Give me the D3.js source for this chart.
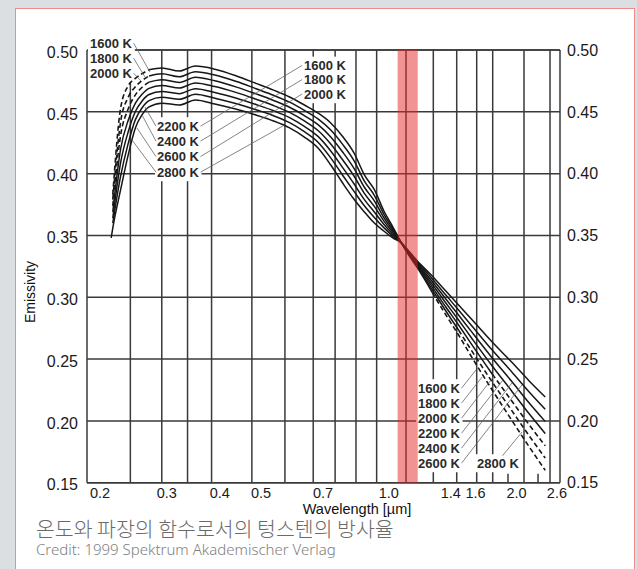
<!DOCTYPE html>
<html><head><meta charset="utf-8">
<script src="https://cdn.jsdelivr.net/npm/d3@7"></script>
<style>body{margin:0;background:#dcdfe2;overflow:hidden} svg{display:block}</style>
</head><body><svg id="c" width="637" height="569"></svg>
<script>
// ---------------- data ----------------
const wavelengths = [0.228,0.23,0.24,0.25,0.26,0.27,0.28,0.30,0.33,0.36,0.40,0.45,0.50,0.55,0.60,0.65,0.70,0.75,0.80,0.85,0.90,0.95,1.0,1.05,1.1,1.15,1.2,1.3,1.4,1.5,1.6,1.8,2.0,2.2,2.4];
const temperatures = ["1600 K","1800 K","2000 K","2200 K","2400 K","2600 K","2800 K"];
const emis1600 = [null,.383,.453,.471,.477,.481,.484,.4855,.483,.487,.4845,.479,.473,.4675,.462,.4555,.449,.441,.430,.417,.399,.387,.370,.357,.344,.333,.3237,.304,.2857,.2695,.2533,.225,.2007,.179,.160];
const emis1800 = [null,.379,.442,.4617,.4703,.4755,.479,.4808,.4784,.4824,.4798,.4745,.4687,.4634,.4578,.4512,.4443,.4353,.4237,.4108,.394,.3825,.3673,.3555,.344,.3336,.3246,.3062,.2889,.2735,.2583,.2315,.2085,.1879,.1699];
const emis2000 = [null,.374,.431,.4523,.4637,.470,.474,.476,.4738,.4779,.4751,.470,.4645,.4592,.4537,.4469,.4396,.4297,.4175,.4045,.389,.378,.3645,.354,.344,.3342,.3256,.3084,.2921,.2776,.2633,.2379,.2163,.1968,.1798];
const emis2200 = [null,.369,.420,.443,.457,.4645,.469,.4713,.4693,.4733,.4704,.4655,.4602,.4551,.4495,.4426,.4349,.424,.4112,.3983,.384,.3735,.3618,.3525,.344,.3348,.3265,.3106,.2954,.2816,.2683,.2444,.2242,.2057,.1897];
const emis2400 = [null,.364,.409,.4337,.4503,.459,.464,.4665,.4647,.4687,.4657,.461,.4559,.4509,.4453,.4382,.4301,.4183,.4049,.392,.379,.369,.3591,.351,.344,.3354,.3274,.3128,.2986,.2856,.2732,.2509,.232,.2145,.1995];
const emis2600 = [null,.360,.398,.4243,.4437,.4535,.459,.4618,.4601,.4642,.461,.4565,.4517,.4468,.4412,.4339,.4254,.4127,.3987,.3858,.374,.3645,.3563,.3495,.344,.336,.3284,.315,.3018,.2897,.2782,.2573,.2398,.2234,.2094];
const emis2800 = [.348,.356,.387,.415,.437,.448,.454,.457,.4555,.4596,.4563,.452,.4474,.4426,.437,.4296,.4207,.407,.3924,.3795,.369,.360,.3536,.348,.344,.3366,.3293,.3172,.305,.2937,.2832,.2638,.2476,.2323,.2193];
const seriesValues = [emis1600,emis1800,emis2000,emis2200,emis2400,emis2600,emis2800];
// extrapolated (dashed) ranges per series: dashed up to / from these wavelengths
const dashedBelow = [0.28,0.28,0.28,null,null,null,null];
const dashedAbove = [1.3,1.5,1.8,null,null,null,null];

const yTicks = [0.15,0.20,0.25,0.30,0.35,0.40,0.45,0.50];
const yTickLabels = ["0.15","0.20","0.25","0.30","0.35","0.40","0.45","0.50"];
const xTicks = [0.2,0.3,0.4,0.5,0.7,1.0,1.4,1.6,2.0,2.6];
const xTickLabels = ["0.2","0.3","0.4","0.5","0.7","1.0","1.4","1.6","2.0","2.6"];
const gridWavelengths = [0.253,0.30,0.345,0.393,0.489,0.585,0.682,0.768,0.86,0.962,1.128,1.308,1.485,1.655,1.805,2.139,2.463];
const minorTickWavelengths = [1.961,2.308];
const bandRange = [1.078,1.202];

// annotation labels: text, anchor (wavelength, emissivity)
const labelText = ["1600 K","1800 K","2000 K","1600 K","1800 K","2000 K","2200 K","2400 K","2600 K","2800 K","1600 K","1800 K","2000 K","2200 K","2400 K","2600 K","2800 K"];
const labelLam  = [0.2033,0.2033,0.2033,0.6488,0.6488,0.6488,0.2923,0.2923,0.2923,0.2923,1.204,1.204,1.204,1.204,1.204,1.204,1.658];
const labelEmis = [0.5057,0.4935,0.4814,0.4875,0.4761,0.4644,0.4385,0.4264,0.4139,0.4013,0.2266,0.2145,0.2023,0.1902,0.1781,0.1659,0.1659];
// leader lines: label index, side of label, target point (wavelength, emissivity)
const leaderLabel = [0,1,2,6,7,8,9,6,7,8,9,10,11,12,13,14,15,16];
const leaderSide  = ["right","right","right","left","left","left","left","right","right","right","right","right","right","right","right","right","right","top"];
const leaderLam   = [0.2814,0.2739,0.2695,0.2739,0.2695,0.2623,0.2553,0.642,0.642,0.642,0.5808,1.649,1.704,1.818,1.909,2.004,2.116,2.116];
const leaderEmis  = [0.4822,0.4782,0.4741,0.4539,0.4474,0.4369,0.4272,0.4875,0.4761,0.4644,0.4389,0.2412,0.2355,0.2363,0.2331,0.2307,0.2291,0.191];

// ---------------- layout ----------------
const svg = d3.select("#c");
const L = 87, R = 560, T = 50, B = 482.7;
const x = d3.scaleLog().domain([0.2, 2.6]).range([L, R]);
const y = d3.scaleLinear().domain([0.15, 0.50]).range([B, T]);
const axisFont = "'Liberation Sans', Arial, Helvetica, sans-serif";
const gridColor = "#3a3a3a";

svg.append("rect").attr("x",0).attr("y",0).attr("width",637).attr("height",569).attr("fill","#dcdfe2");
svg.append("rect").attr("x",15.5).attr("y",8.5).attr("width",619).attr("height",620)
  .attr("fill","#ffffff").attr("stroke","#f08a8a").attr("stroke-width",1);

const plot = svg.append("g");

// grid
const grid = plot.append("g").attr("stroke", gridColor).attr("stroke-width", 1.5);
grid.selectAll("line.h").data(yTicks).join("line")
  .attr("x1", L).attr("x2", R).attr("y1", d => y(d)).attr("y2", d => y(d));
grid.selectAll("line.v").data(gridWavelengths).join("line")
  .attr("x1", d => x(d)).attr("x2", d => x(d)).attr("y1", T).attr("y2", B);
grid.selectAll("line.m").data(minorTickWavelengths).join("line")
  .attr("x1", d => x(d)).attr("x2", d => x(d)).attr("y1", B - 9).attr("y2", B);

// labels (white boxes hide grid)
const labFont = 13;
const labG = plot.append("g");
const labels = labelText.map((t, i) => {
  const g = labG.append("g");
  const txt = g.append("text").attr("x", x(labelLam[i])).attr("y", y(labelEmis[i])).attr("dy", "0.36em")
    .attr("font-family", axisFont).attr("font-weight", "bold").attr("font-size", labFont)
    .attr("fill", "#2a2a2a").text(t);
  const bb = txt.node().getBBox();
  g.insert("rect", "text").attr("x", bb.x - 2).attr("y", bb.y - 1.5)
    .attr("width", bb.width + 4).attr("height", bb.height + 3).attr("fill", "#fff");
  return bb;
});
// border on top of boxes except where hidden by the top-left labels
const border = plot.append("g").attr("stroke", gridColor).attr("stroke-width", 1.5);
border.append("line").attr("x1", L).attr("x2", L).attr("y1", T).attr("y2", B);
border.append("line").attr("x1", R).attr("x2", R).attr("y1", T).attr("y2", B);
border.append("line").attr("x1", L).attr("x2", R).attr("y1", B).attr("y2", B);
border.append("line").attr("x1", labels[0].x + labels[0].width + 3).attr("x2", R).attr("y1", T).attr("y2", T);

// curves
const line = d3.line().defined(d => d[1] != null).x(d => x(d[0])).y(d => y(d[1])).curve(d3.curveMonotoneX);
const curves = plot.append("g").attr("fill", "none").attr("stroke", "#161616").attr("stroke-width", 1.5);
seriesValues.forEach((vals, k) => {
  const pts = wavelengths.map((w, i) => [w, vals[i]]).filter(p => p[1] != null);
  const lo = dashedBelow[k], hi = dashedAbove[k];
  const solid = pts.filter(p => (lo == null || p[0] >= lo) && (hi == null || p[0] <= hi));
  curves.append("path").attr("d", line(solid));
  if (lo != null) curves.append("path").attr("d", line(pts.filter(p => p[0] <= lo)))
    .attr("stroke-dasharray", "5,3").attr("stroke-width", 1.6);
  if (hi != null) curves.append("path").attr("d", line(pts.filter(p => p[0] >= hi)))
    .attr("stroke-dasharray", "5,3").attr("stroke-width", 1.6);
});

// leaders
const leaders = plot.append("g").attr("stroke", "#666").attr("stroke-width", 0.8);
leaderLabel.forEach((li, j) => {
  const bb = labels[li];
  let sx, sy = bb.y + bb.height / 2;
  if (leaderSide[j] === "right") sx = bb.x + bb.width + 1;
  else if (leaderSide[j] === "left") sx = bb.x - 1;
  else { sx = bb.x + bb.width * 0.6; sy = bb.y; }
  leaders.append("line").attr("x1", sx).attr("y1", sy)
    .attr("x2", x(leaderLam[j])).attr("y2", y(leaderEmis[j]));
});

// red band (translucent, on top)
plot.append("rect").attr("x", x(bandRange[0])).attr("y", T)
  .attr("width", x(bandRange[1]) - x(bandRange[0])).attr("height", B - T)
  .attr("fill", "rgb(230,40,40)").attr("fill-opacity", 0.5);

// y tick labels (both sides)
const yl = svg.append("g").attr("font-family", axisFont).attr("font-size", 16).attr("fill", "#1a1a1a");
yl.selectAll("text.l").data(yTicks).join("text")
  .attr("x", 78).attr("y", d => y(d) + 2).attr("dy", "0.36em").attr("text-anchor", "end")
  .text((d, i) => yTickLabels[i]);
yl.selectAll("text.r").data(yTicks).join("text")
  .attr("x", 567).attr("y", d => y(d)).attr("dy", "0.36em").attr("text-anchor", "start")
  .text((d, i) => yTickLabels[i]);

// x tick labels
const xl = svg.append("g").attr("font-family", axisFont).attr("font-size", 14.5).attr("fill", "#1a1a1a");
xl.selectAll("text").data(xTicks).join("text")
  .attr("x", (d, i) => i === 0 ? x(d) + 3 : (i === xTicks.length - 1 ? x(d) + 7 : x(d) + 5))
  .attr("y", 497.5)
  .attr("text-anchor", (d, i) => i === 0 ? "start" : (i === xTicks.length - 1 ? "end" : "middle"))
  .text((d, i) => xTickLabels[i]);

// axis titles
svg.append("text").attr("x", 357).attr("y", 514).attr("text-anchor", "middle")
  .attr("font-family", axisFont).attr("font-size", 14.5).attr("fill", "#111").text("Wavelength [µm]");
svg.append("text").attr("transform", "translate(35,292) rotate(-90)").attr("text-anchor", "middle")
  .attr("font-family", axisFont).attr("font-size", 14).attr("fill", "#111").text("Emissivity");

// caption
svg.append("text").attr("x", 36).attr("y", 536.5)
  .attr("font-family", "'Noto Sans CJK KR', 'Noto Sans', sans-serif").attr("font-weight", 300)
  .attr("font-size", 20.5).attr("fill", "#6a6a6a").text("온도와 파장의 함수로서의 텅스텐의 방사율");
svg.append("text").attr("x", 36).attr("y", 555)
  .attr("font-family", "'Noto Sans', 'Open Sans', sans-serif").attr("font-weight", 300)
  .attr("font-size", 15).attr("fill", "#808080").text("Credit: 1999 Spektrum Akademischer Verlag");
</script>
</body></html>
